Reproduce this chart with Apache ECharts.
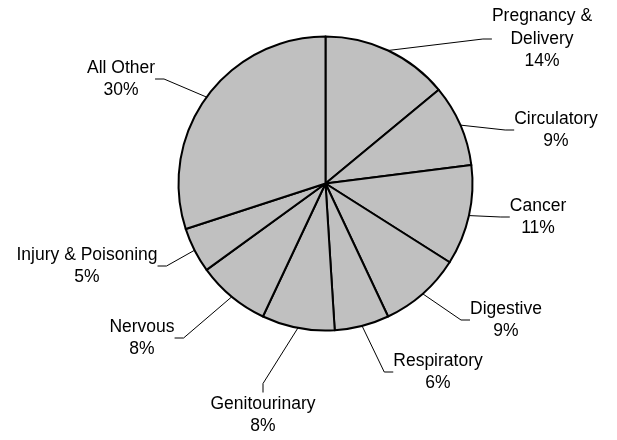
<!DOCTYPE html>
<html>
<head>
<meta charset="utf-8">
<title>Share of cases by diagnosis group</title>
<script src="https://cdn.jsdelivr.net/npm/echarts@6/dist/echarts.min.js"></script>
<style>
  html, body { margin: 0; padding: 0; background: #ffffff; }
  #chart { width: 617px; height: 440px; }
</style>
</head>
<body>
<div id="chart"></div>
<script>
// Diagnosis groups, clockwise from 12 o'clock
const categories = [
  'Pregnancy &\nDelivery',
  'Circulatory',
  'Cancer',
  'Digestive',
  'Respiratory',
  'Genitourinary',
  'Nervous',
  'Injury & Poisoning',
  'All Other'
];
// Percent of all cases
const shares = [14, 9, 11, 9, 6, 8, 8, 5, 30];

// Where each label block is centred (px), same order as the categories
const labelCentres = [
  [542, 39], [556, 130], [538, 217], [506, 320], [438, 372],
  [263, 415], [142, 338], [87, 266], [121, 79]
];

const chart = echarts.init(document.getElementById('chart'), null, { renderer: 'canvas' });

chart.setOption({
  backgroundColor: '#ffffff',
  animation: false,
  series: [{
    type: 'pie',
    center: [325.5, 183.5],
    radius: 147,
    startAngle: 90,
    clockwise: true,
    avoidLabelOverlap: false,
    data: categories.map((name, i) => ({ name: name, value: shares[i] })),
    itemStyle: {
      color: '#c0c0c0',
      borderColor: '#000000',
      borderWidth: 2
    },
    label: {
      show: true,
      position: 'outside',
      formatter: p => p.name + '\n' + p.value + '%',
      fontFamily: 'Liberation Sans, Arial, sans-serif',
      fontSize: 17.5,
      lineHeight: 22.5,
      color: '#000000',
      align: 'center'
    },
    labelLine: {
      show: true,
      length: 20,
      length2: 9,
      lineStyle: { color: '#000000', width: 1 }
    },
    labelLayout: function (params) {
      const c = labelCentres[params.dataIndex];
      return {
        x: c[0],
        y: c[1],
        align: 'center',
        verticalAlign: 'middle'
      };
    },
    emphasis: { disabled: true }
  }]
});
</script>
</body>
</html>
